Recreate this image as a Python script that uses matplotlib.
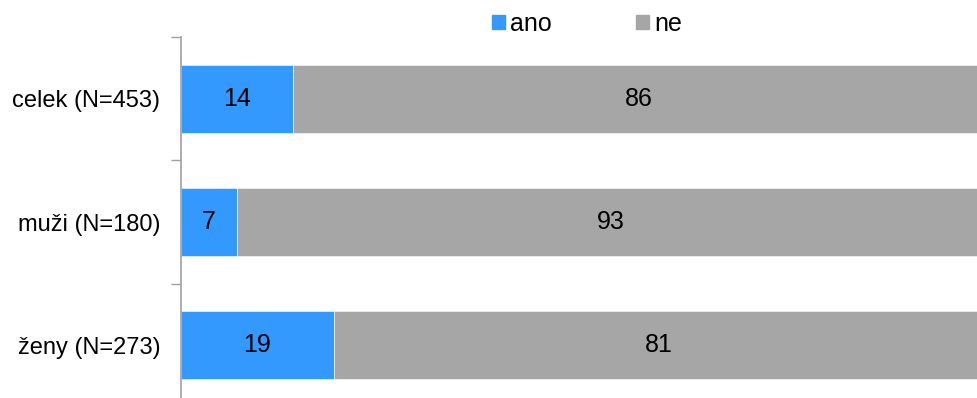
import matplotlib.pyplot as plt
from matplotlib.patches import Patch

# DATA -------------
categories = ["celek (N=453)", "muži (N=180)", "ženy (N=273)"]
ano = [14, 7, 19]
ne = [86, 93, 81]
series_names = ["ano", "ne"]

# COLORS -----------
myblue = "#3399FF"
mygrey = "#A6A6A6"
axis_grey = "#A0A0A0"

plt.rcParams["font.family"] = ["Liberation Sans", "DejaVu Sans"]

W, H = 978, 398
fig = plt.figure(figsize=(W / 100, H / 100), dpi=100)

# axes box in pixels: x 181..984, y 37..407 (runs past the bottom)
left, right, top, bottom = 181, 984, 37, 407
ax = fig.add_axes([left / W, (H - bottom) / H, (right - left) / W, (bottom - top) / H])

ypos = list(range(len(categories)))
bar_h = 0.55
ax.barh(ypos, ano, height=bar_h, color=myblue, edgecolor="white", linewidth=0.4)
ax.barh(ypos, ne, left=ano, height=bar_h, color=mygrey, edgecolor="white", linewidth=0.4)

for i in ypos:
    ax.text(ano[i] / 2, i, str(ano[i]), ha="center", va="center", fontsize=18)
    ax.text(ano[i] + ne[i] / 2, i, str(ne[i]), ha="center", va="center", fontsize=18)

ax.set_xlim(0, 100)
ax.set_ylim(len(categories) - 0.5, -0.5)
ax.set_yticks(ypos)
ax.set_yticklabels(categories, fontsize=17)
ax.set_yticks([-0.5, 0.5, 1.5, 2.5], minor=True)
ax.tick_params(axis="y", which="major", length=0, pad=15)
ax.tick_params(axis="y", which="minor", length=7, color=axis_grey, width=1)
ax.set_xticks([])

for s in ["top", "right", "bottom"]:
    ax.spines[s].set_visible(False)
ax.spines["left"].set_color(axis_grey)
ax.spines["left"].set_linewidth(1.2)

handles = [Patch(color=myblue), Patch(color=mygrey)]
fig.legend(handles, series_names, loc="center", bbox_to_anchor=(587 / W, 1 - 24 / H),
           ncol=2, frameon=False, fontsize=18, handlelength=0.52, handleheight=0.5,
           handletextpad=0.2, columnspacing=3.36)

fig.savefig("out.png", dpi=100)
